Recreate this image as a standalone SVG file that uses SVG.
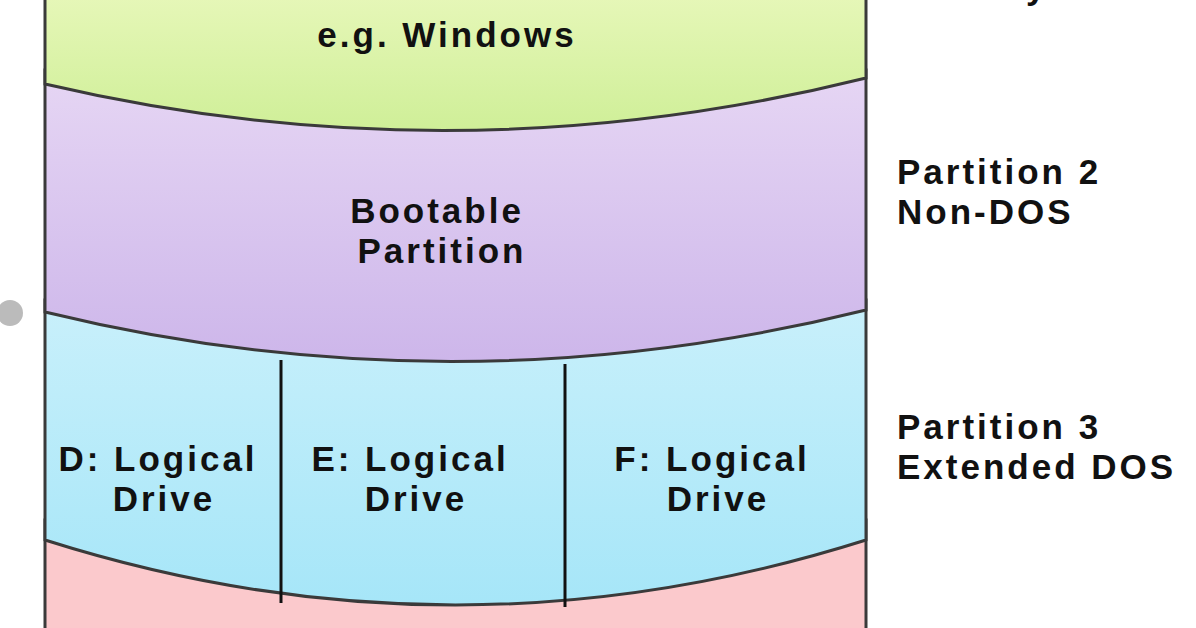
<svg xmlns="http://www.w3.org/2000/svg" width="1196" height="628" viewBox="0 0 1196 628">
<style>
text{font-family:"Liberation Sans",Arial,sans-serif;font-weight:bold;font-size:35px;letter-spacing:3px;fill:#111}
.c{text-anchor:middle}
.edge{stroke:#3a3a3a;stroke-width:3}
</style>
<defs>
<linearGradient id="gG" x1="0" y1="0" x2="0" y2="1"><stop offset="0" stop-color="#e6f7b8"/><stop offset="1" stop-color="#cfef98"/></linearGradient>
<linearGradient id="gP" x1="0" y1="0" x2="0" y2="1"><stop offset="0" stop-color="#e6d6f4"/><stop offset="1" stop-color="#cdb6ea"/></linearGradient>
<linearGradient id="gB" x1="0" y1="0" x2="0" y2="1"><stop offset="0" stop-color="#c9f0fb"/><stop offset="1" stop-color="#a6e6f8"/></linearGradient>
</defs>
<rect width="1196" height="628" fill="#fff"/>
<circle cx="10" cy="313" r="13" fill="#bbb"/>
<g id="pink"><rect x="45" y="520" width="821" height="120" fill="#fbc9cc" class="edge"/></g>
<g id="extended"><path d="M45 300 H866 V540 Q455 670 45 540 Z" fill="url(#gB)" class="edge"/></g>
<g id="bootable"><path d="M45 70 H866 V310 Q455 412 45 312 Z" fill="url(#gP)" class="edge"/></g>
<g id="primary"><path d="M45 -5 H866 V78 Q455 180 45 84 Z" fill="url(#gG)" class="edge"/></g>
<g id="connectors">
<line x1="281" y1="360" x2="281" y2="603" stroke="#111" stroke-width="3"/>
<line x1="565" y1="364" x2="565" y2="607" stroke="#111" stroke-width="3"/>
</g>
<text class="c" x="447" y="47">e.g. Windows</text>
<text class="c" x="437" y="223">Bootable</text>
<text class="c" x="442" y="263">Partition</text>
<g id="d"><text class="c" x="158" y="471">D: Logical</text><text class="c" x="164" y="511">Drive</text></g>
<g id="e"><text class="c" x="410" y="471">E: Logical</text><text class="c" x="416" y="511">Drive</text></g>
<g id="f"><text class="c" x="712" y="471">F: Logical</text><text class="c" x="718" y="511">Drive</text></g>
<text x="897" y="-1">Primary DOS</text>
<text x="897" y="184">Partition 2</text>
<text x="897" y="224">Non-DOS</text>
<text x="897" y="439">Partition 3</text>
<text x="897" y="479">Extended DOS</text>
</svg>
